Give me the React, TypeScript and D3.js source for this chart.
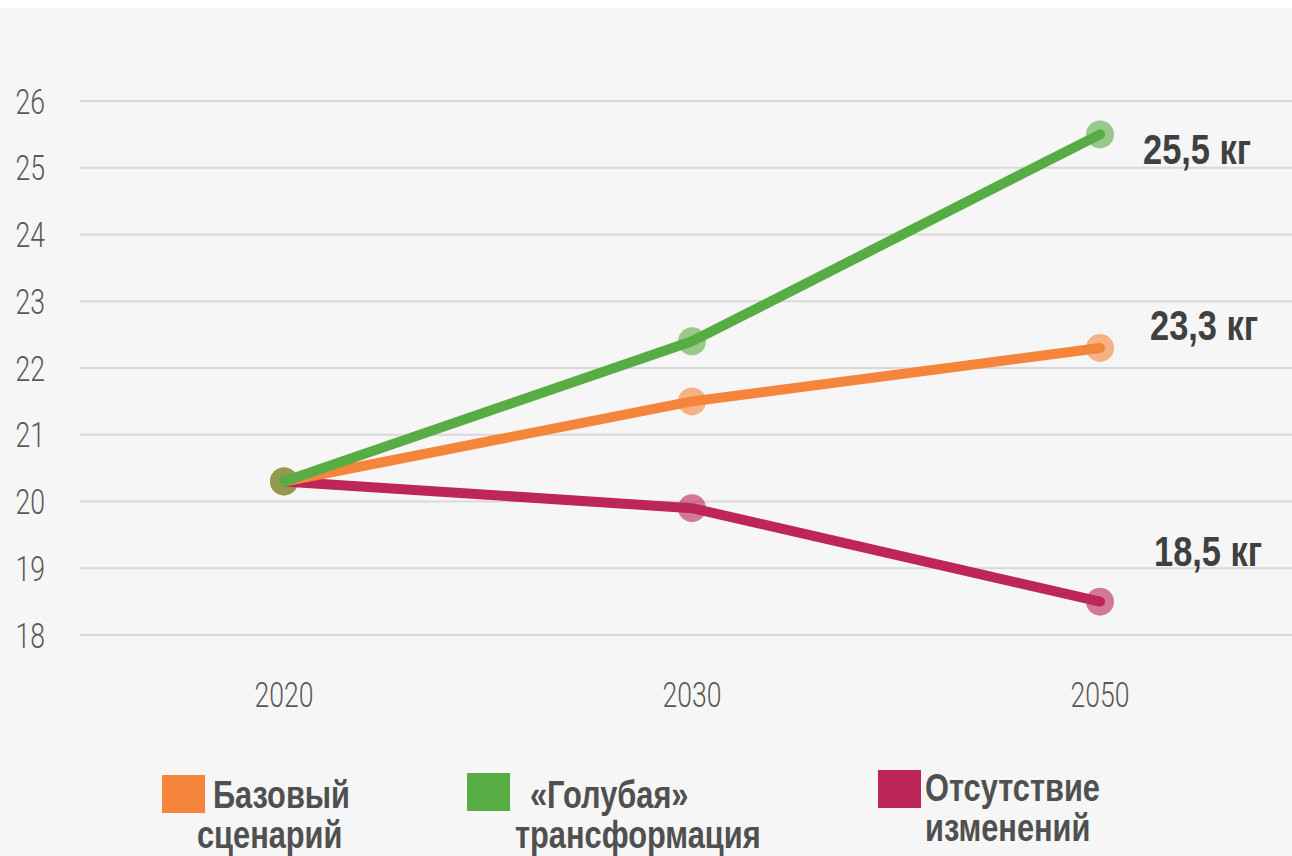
import { useEffect, useRef } from 'react';
import * as d3 from 'd3';

// Chart data
const years = ['2020', '2030', '2050'];
const baseValues = [20.3, 21.5, 22.3];
const blueValues = [20.3, 22.4, 25.5];
const noChangeValues = [20.3, 19.9, 18.5];
const yTicks = [18, 19, 20, 21, 22, 23, 24, 25, 26];
const endLabels = ['25,5 кг', '23,3 кг', '18,5 кг'];
const legendLabels = [
  ['Базовый', 'сценарий'],
  ['«Голубая»', 'трансформация'],
  ['Отсутствие', 'изменений'],
];

const colors = ['#F5853A', '#58AC44', '#BD2657'];

const W = 1292;
const H = 848;
const light = 'Roboto, "Liberation Sans", sans-serif';
const bold = '"Liberation Sans", Arial, sans-serif';

const App = () => {
  const svgRef = useRef<SVGSVGElement>(null);

  useEffect(() => {
    if (!svgRef.current) return;
    const svg = d3.select(svgRef.current);
    svg.selectAll('*').remove();

    svg.append('rect').attr('width', W).attr('height', H).attr('fill', '#f6f6f6');

    const x = d3.scaleBand<string>().domain(years).range([80, 1304]);
    const cx = (d: string) => (x(d) ?? 0) + x.bandwidth() / 2;
    const y = d3.scaleLinear().domain([18, 26]).range([627, 93]);

    // condensed text: draw with a horizontal squeeze
    const squeezed = (g: d3.Selection<any, any, any, any>, tx: number, ty: number, k: number) =>
      g.append('text').attr('transform', `translate(${tx},${ty}) scale(${k},1)`);

    // Grid lines
    svg.append('g')
      .selectAll('line')
      .data(yTicks)
      .enter()
      .append('line')
      .attr('x1', 80)
      .attr('x2', W)
      .attr('y1', d => y(d))
      .attr('y2', d => y(d))
      .attr('stroke', '#d9d9d9')
      .attr('stroke-width', 2);

    // Y labels
    yTicks.forEach(t => {
      squeezed(svg, 45, y(t), 0.76)
        .attr('dy', '0.36em')
        .attr('text-anchor', 'end')
        .style('font-family', light)
        .style('font-weight', 300)
        .style('font-size', '35px')
        .style('fill', '#595959')
        .text(t);
    });

    // X labels
    years.forEach(yr => {
      squeezed(svg, cx(yr), 686, 0.76)
        .attr('dy', '0.36em')
        .attr('text-anchor', 'middle')
        .style('font-family', light)
        .style('font-weight', 300)
        .style('font-size', '35px')
        .style('fill', '#595959')
        .text(yr);
    });

    // draw order: no change, base, blue (green on top)
    const series = [
      { vals: noChangeValues, color: colors[2] },
      { vals: baseValues, color: colors[0] },
      { vals: blueValues, color: colors[1] },
    ];
    const line = d3.line<number>()
      .x((_, i) => cx(years[i]))
      .y(d => y(d));

    series.forEach(s => {
      svg.append('g')
        .selectAll('circle')
        .data(s.vals)
        .enter()
        .append('circle')
        .attr('cx', (_, i) => cx(years[i]))
        .attr('cy', d => y(d))
        .attr('r', 14)
        .attr('fill', s.color)
        .attr('fill-opacity', 0.6);
    });

    series.forEach(s => {
      svg.append('path')
        .datum(s.vals)
        .attr('d', line)
        .attr('fill', 'none')
        .attr('stroke', s.color)
        .attr('stroke-width', 10)
        .attr('stroke-linecap', 'round')
        .attr('stroke-linejoin', 'round');
    });

    // End labels
    const labelOffsets = [
      { dx: 43, dy: 30 },
      { dx: 50, dy: -8 },
      { dx: 54, dy: -36 },
    ];
    const endOrder = [blueValues, baseValues, noChangeValues];
    endLabels.forEach((lab, i) => {
      const vals = endOrder[i];
      squeezed(svg, cx(years[2]) + labelOffsets[i].dx, y(vals[vals.length - 1]) + labelOffsets[i].dy, 0.82)
        .style('font-family', bold)
        .style('font-weight', 'bold')
        .style('font-size', '42px')
        .style('fill', '#404040')
        .text(lab);
    });

    // Legend
    const legendPos = [
      { x: 162, y: 767, tx: [213, 197], ty: [800, 840] },
      { x: 467, y: 765, tx: [530, 515], ty: [800, 840] },
      { x: 878, y: 762, tx: [925, 925], ty: [793, 833] },
    ];
    legendLabels.forEach((lines, i) => {
      const p = legendPos[i];
      svg.append('rect')
        .attr('x', p.x)
        .attr('y', p.y)
        .attr('width', 43)
        .attr('height', 38)
        .attr('fill', colors[i]);
      lines.forEach((t, j) => {
        squeezed(svg, p.tx[j], p.ty[j], 0.81)
          .style('font-family', bold)
          .style('font-weight', 'bold')
          .style('font-size', '38px')
          .style('fill', '#505050')
          .text(t);
      });
    });
  }, []);

  return (
    <svg
      ref={svgRef}
      width={W}
      height={H}
      style={{ position: 'absolute', left: 0, top: 8, display: 'block' }}
    />
  );
};

export default App;
